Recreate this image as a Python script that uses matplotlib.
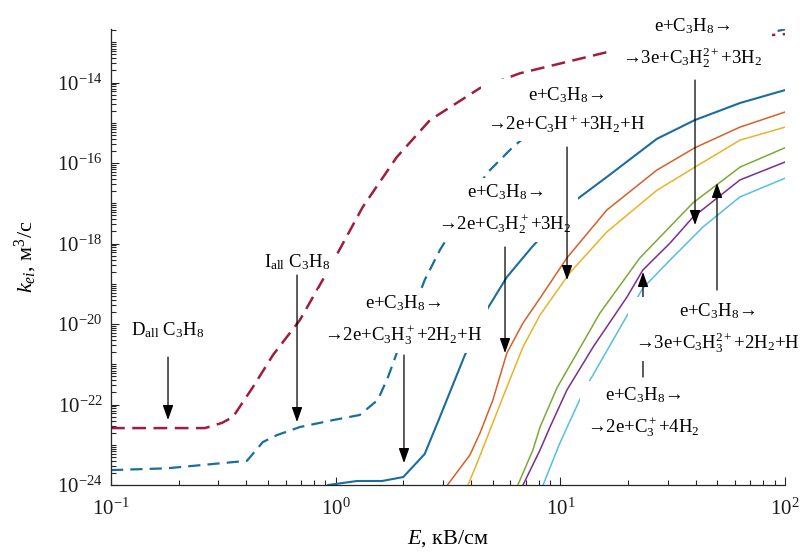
import numpy as np
import matplotlib
matplotlib.use("Agg")
import matplotlib.pyplot as plt
from matplotlib.ticker import FixedLocator, LogLocator, FuncFormatter, NullFormatter
from matplotlib.patches import ArrowStyle

plt.rcParams['font.family'] = ['Liberation Serif', 'DejaVu Serif']
plt.rcParams['mathtext.fontset'] = 'custom'
plt.rcParams['mathtext.rm'] = 'Liberation Serif'
plt.rcParams['mathtext.it'] = 'Liberation Serif:italic'
plt.rcParams['mathtext.bf'] = 'Liberation Serif:bold'

# ---------------- data (E in kV/cm, k in m^3/s) ----------------
E_D_all = [0.1, 0.262, 0.312, 0.349, 0.428, 0.526, 0.693, 0.944, 1.32, 1.87, 2.63, 4.39, 6.61, 18.4, 41.8, 100]
k_D_all = [2.6e-23, 2.6e-23, 3.5e-23, 4.9e-23, 2.7e-22, 1.7e-21, 1.26e-20, 2.6e-19, 8.1e-18, 1.4e-16,
           1.17e-15, 7.3e-15, 1.7e-14, 6.8e-14, 1.14e-13, 1.6e-13]

E_I_all = [0.1, 0.177, 0.403, 0.474, 0.548, 0.693, 0.973, 1.28, 1.54, 1.71, 1.87, 2.49, 2.91, 4.71, 6.15,
           9.95, 15.0, 20.0, 22.6, 41.8, 100]
k_I_all = [2.35e-24, 2.6e-24, 4.0e-24, 1.17e-23, 1.74e-23, 2.76e-23, 4.1e-23, 5.5e-23, 1.3e-22, 4.8e-22,
           1.9e-21, 1.24e-19, 6.9e-19, 5.6e-17, 2.5e-16, 2.3e-15, 5.8e-15, 9.2e-15, 2.04e-14, 7.2e-14, 2.1e-13]

E_C3H3p = [0.925, 1.245, 1.61, 2.0, 2.49, 2.91, 3.76, 4.61, 5.78, 7.48, 11.4, 16.1, 26.9, 39.7, 63.0, 100]
k_C3H3p = [1.0e-24, 1.26e-24, 1.26e-24, 1.58e-24, 5.9e-24, 4.9e-23, 1.7e-21, 1.87e-20, 1.47e-19, 8.2e-19,
           1.07e-17, 4.5e-17, 4.0e-16, 1.17e-15, 3.1e-15, 6.5e-15]

E_C3Hp = [3.1, 3.96, 4.39, 5.01, 5.78, 6.82, 8.12, 10.7, 16.1, 26.9, 39.7, 63.0, 100]
k_C3Hp = [9e-25, 5.6e-24, 1.96e-23, 1.3e-22, 1.9e-21, 1.06e-20, 4.4e-20, 4.4e-19, 6.8e-18, 6.7e-17,
          2.4e-16, 7.8e-16, 1.85e-15]

E_C3H2p = [3.88, 4.26, 4.86, 5.78, 6.82, 8.12, 11.0, 16.1, 26.9, 39.7, 63.0, 100]
k_C3H2p = [1e-24, 3.5e-24, 2.3e-23, 2.7e-22, 2.7e-21, 1.67e-20, 1.85e-19, 1.94e-18, 2.1e-17, 7.9e-17,
           3.7e-16, 7.8e-16]

E_C3H2pp = [6.47, 7.55, 8.12, 9.66, 12.2, 15.0, 22.6, 38.9, 63.0, 100]
k_C3H2pp = [1e-24, 7.4e-24, 2.75e-23, 2.6e-22, 2.5e-21, 1.87e-20, 4.4e-19, 1.02e-17, 7.9e-17, 2.4e-16]

E_C3H3pp = [6.82, 8.12, 8.99, 10.7, 14.0, 19.8, 23.3, 30.8, 38.9, 63.0, 100]
k_C3H3pp = [1e-24, 7.4e-24, 2.75e-23, 2.3e-22, 2.7e-21, 4.7e-20, 2.2e-19, 1.03e-18, 4.5e-18, 3.8e-17, 1.06e-16]

E_C3p = [8.38, 9.95, 12.9, 13.8, 20.8, 23.3, 30.8, 43.2, 63.0, 100]
k_C3p = [1e-24, 1.1e-23, 2.6e-22, 4.8e-22, 2.6e-20, 7.8e-20, 3.9e-19, 2.6e-18, 1.44e-17, 4.2e-17]

x_ticks = [0.1, 1, 10, 100]
y_ticks = [1e-24, 1e-22, 1e-20, 1e-18, 1e-16, 1e-14]

# ---------------- figure ----------------
fig = plt.figure(figsize=(8.02, 5.54), dpi=100)
ax = fig.add_axes([0.1384, 0.1245, 0.8404, 0.824])
ax.set_xscale('log')
ax.set_yscale('log')

c_red = '#9e1e3c'
c_blue = '#1a6e9e'
c_orange = '#d4602a'
c_yellow = '#e8b32a'
c_green = '#7aaa35'
c_purple = '#7a2f8c'
c_lblue = '#55bfe3'

ax.plot(E_D_all, k_D_all, color=c_red, lw=1.8, dashes=(5.5, 3.0), zorder=2)
ax.plot(E_I_all, k_I_all, color=c_blue, lw=1.6, dashes=(5.5, 3.2), zorder=2)
ax.plot(E_C3H3p, k_C3H3p, color=c_blue, lw=1.5, zorder=2)
ax.plot(E_C3Hp, k_C3Hp, color=c_orange, lw=1.1, zorder=2)
ax.plot(E_C3H2p, k_C3H2p, color=c_yellow, lw=1.1, zorder=2)
ax.plot(E_C3H2pp, k_C3H2pp, color=c_green, lw=1.1, zorder=2)
ax.plot(E_C3H3pp, k_C3H3pp, color=c_purple, lw=1.1, zorder=2)
ax.plot(E_C3p, k_C3p, color=c_lblue, lw=1.1, zorder=2)

ax.set_xlim(0.1, 100)
ax.set_ylim(1e-24, 2.2e-13)

for s in ['top', 'right']:
    ax.spines[s].set_visible(False)
for s in ['left', 'bottom']:
    ax.spines[s].set_color('#262626')
    ax.spines[s].set_linewidth(0.9)

ax.xaxis.set_major_locator(FixedLocator(x_ticks))
ax.xaxis.set_minor_locator(LogLocator(base=10, subs=np.arange(2, 10), numticks=50))
ax.yaxis.set_major_locator(FixedLocator(y_ticks))
ax.yaxis.set_minor_locator(LogLocator(base=10, subs=np.arange(1, 10), numticks=100))
fmt = FuncFormatter(lambda v, p: r'$\mathregular{10^{%d}}$' % int(round(np.log10(v))))
ax.xaxis.set_major_formatter(fmt)
ax.yaxis.set_major_formatter(fmt)
ax.xaxis.set_minor_formatter(NullFormatter())
ax.yaxis.set_minor_formatter(NullFormatter())
ax.tick_params(which='both', direction='in', color='#262626', labelcolor='#1a1a1a', width=0.8)
ax.tick_params(which='major', length=6, labelsize=15)
ax.tick_params(axis='x', which='major', pad=10)
ax.tick_params(axis='y', which='major', pad=6)
ax.tick_params(which='minor', length=3.5)

ax.set_xlabel(r'$E$, кВ/см', fontsize=16, labelpad=6)
ax.set_ylabel(r'$k_{ei}$, м$^3$/с', fontsize=16, labelpad=13)

# ---------------- annotations (axes-fraction layout) ----------------
line1 = r'e+C$_3$H$_8$→'
labels = [
    # text, center, arrow start, arrow tip, arrow above text boxes, box pad
    (r'D$_{\mathrm{all}}$ C$_3$H$_8$', (0.0846, 0.3395), (0.0846, 0.2804), (0.0846, 0.1424), True, 4.5),
    (r'I$_{\mathrm{all}}$ C$_3$H$_8$', (0.2760, 0.4885), (0.2760, 0.4600), (0.2760, 0.1380), True, 4.5),
    (line1 + '\n' + r'→2e+C$_3$H$_3^+$+2H$_2$+H', (0.4332, 0.3614), (0.4347, 0.2848), (0.4347, 0.0482), True, 4.5),
    (line1 + '\n' + r'→2e+C$_3$H$_2^+$+3H$_2$', (0.5846, 0.6046), (0.5846, 0.5214), (0.5846, 0.2892), True, 4.5),
    (line1 + '\n' + r'→2e+C$_3$H$^+$+3H$_2$+H', (0.6751, 0.8215), (0.6766, 0.7404), (0.6766, 0.4491), True, 4.5),
    (line1 + '\n' + r'→3e+C$_3$H$_2^{2+}$+3H$_2$', (0.8620, 0.9682), (0.8665, 0.8872), (0.8665, 0.5696), True, 7.0),
    (line1 + '\n' + r'→3e+C$_3$H$_3^{2+}$+2H$_2$+H', (0.8991, 0.3439), (0.8991, 0.4272), (0.8991, 0.6616), True, 4.5),
    (line1 + '\n' + r'→2e+C$_3^+$+4H$_2$', (0.7893, 0.1599), (0.7893, 0.2366), (0.7893, 0.4666), False, 4.5),
]

astyle = ArrowStyle('-|>', head_length=0.45, head_width=0.16)
for txt, c, a0, a1, on_top, bpad in labels:
    ax.text(c[0], c[1], txt, transform=ax.transAxes, ha='center', va='center',
            multialignment='center', fontsize=13.5, linespacing=1.55, color='black',
            bbox=dict(facecolor='white', edgecolor='none', pad=bpad), zorder=5)
    ax.annotate('', xy=a1, xytext=a0, xycoords='axes fraction', textcoords='axes fraction',
                arrowprops=dict(arrowstyle=astyle, color='black', lw=0.9, mutation_scale=20,
                                shrinkA=0, shrinkB=0),
                zorder=6 if on_top else 4)

fig.savefig('out.png', dpi=100)
